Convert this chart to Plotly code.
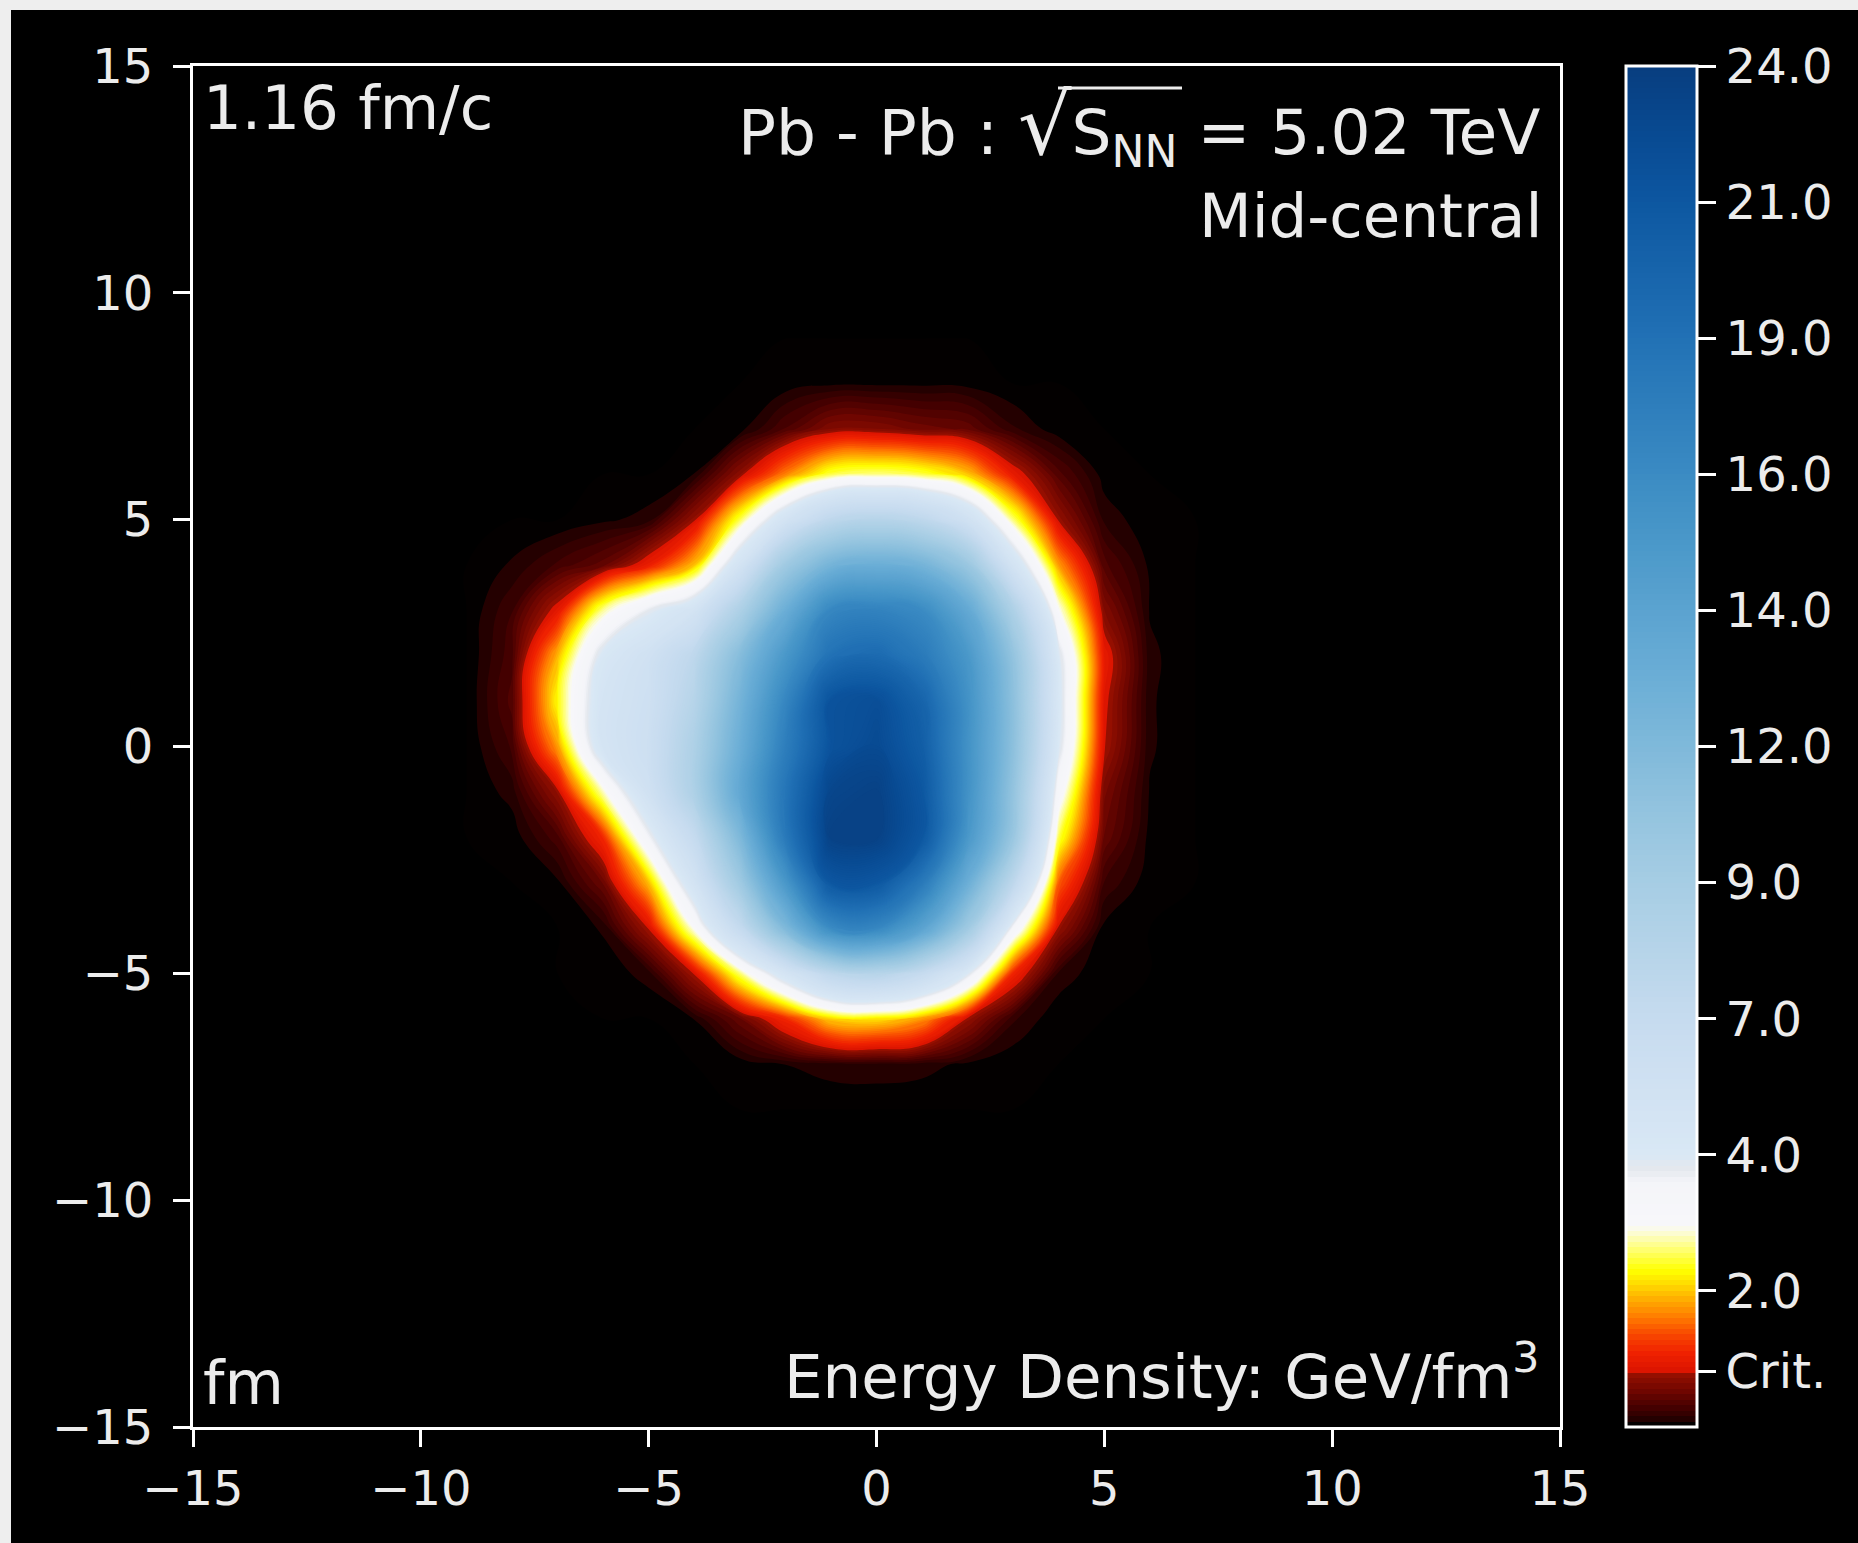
import numpy as np
import plotly.graph_objects as go

# ---------------- data ----------------
# transverse grid, fm
x_fm = [-10, -9, -8, -7, -6, -5, -4, -3, -2, -1, 0, 1, 2, 3, 4, 5, 6, 7, 8]
y_fm_top_down = [9, 8, 7, 6, 5, 4, 3, 2, 1, 0, -1, -2, -3, -4, -5, -6, -7, -8, -9]

# energy density, GeV/fm^3, one row per y value (top row first)
row_y9 = [0, 0, 0, 0, 0, 0, 0, 0, 0, 0, 0, 0, 0, 0, 0, 0, 0, 0, 0]
row_y8 = [0, 0, 0, 0, 0, 0, 0, 0, 0.02, 0.05, 0.05, 0.05, 0.04, 0.0, 0, 0, 0, 0, 0]
row_y7 = [0, 0, 0, 0, 0, 0, 0.0, 0.03, 0.28, 0.55, 0.55, 0.45, 0.39, 0.15, 0.02, 0, 0, 0, 0]
row_y6 = [0, 0, 0, 0, 0, 0.0, 0.07, 0.6, 1.6, 2.5, 2.65, 2.5, 2.0, 0.85, 0.3, 0.03, 0, 0, 0]
row_y5 = [0, 0, 0, 0, 0.05, 0.1, 0.65, 2.5, 5.0, 7.5, 8.0, 7.5, 5.5, 2.6, 0.65, 0.12, 0.01, 0, 0]
row_y4 = [0, 0, 0.08, 0.22, 0.38, 0.9, 1.95, 5.0, 9.5, 12.5, 13.0, 12.5, 10.0, 5.0, 1.75, 0.3, 0.05, 0, 0]
row_y3 = [0, 0, 0.2, 0.8, 2.7, 3.8, 5.0, 8.5, 13.0, 16.5, 17.0, 16.0, 13.5, 8.5, 3.0, 0.55, 0.06, 0, 0]
row_y2 = [0, 0, 0.25, 1.9, 4.2, 5.5, 7.5, 11.5, 15.0, 19.0, 19.5, 18.0, 15.0, 10.5, 4.0, 0.85, 0.09, 0, 0]
row_y1 = [0, 0, 0.3, 2.3, 4.8, 5.8, 8.0, 12.5, 16.5, 21.5, 22.0, 20.0, 15.5, 11.0, 4.2, 0.75, 0.08, 0, 0]
row_y0 = [0, 0, 0.22, 1.75, 4.8, 6.0, 8.5, 13.0, 17.5, 21.5, 22.5, 20.5, 15.5, 11.0, 4.0, 0.7, 0.08, 0, 0]
row_ym1 = [0, 0, 0.1, 0.63, 2.8, 5.5, 8.5, 13.5, 18.5, 23.0, 23.5, 21.0, 15.5, 10.5, 3.3, 0.5, 0.06, 0, 0]
row_ym2 = [0, 0, 0.02, 0.25, 1.05, 3.6, 7.0, 12.0, 18.0, 23.5, 23.5, 21.0, 15.0, 10.0, 2.5, 0.4, 0.04, 0, 0]
row_ym3 = [0, 0, 0, 0.05, 0.42, 1.95, 5.0, 9.5, 15.0, 21.0, 21.0, 18.0, 13.0, 7.5, 1.4, 0.2, 0.02, 0, 0]
row_ym4 = [0, 0, 0, 0.0, 0.08, 0.7, 3.0, 7.0, 12.0, 16.0, 16.5, 14.0, 9.5, 3.5, 0.65, 0.04, 0, 0, 0]
row_ym5 = [0, 0, 0, 0, 0.02, 0.1, 0.7, 2.6, 4.8, 7.5, 8.0, 7.0, 4.0, 1.0, 0.12, 0.01, 0, 0, 0]
row_ym6 = [0, 0, 0, 0, 0, 0.0, 0.07, 0.4, 1.05, 2.05, 2.15, 1.75, 0.65, 0.15, 0.01, 0, 0, 0, 0]
row_ym7 = [0, 0, 0, 0, 0, 0, 0, 0.02, 0.07, 0.11, 0.12, 0.1, 0.05, 0.01, 0, 0, 0, 0, 0]
row_ym8 = [0, 0, 0, 0, 0, 0, 0, 0, 0, 0, 0, 0, 0, 0, 0, 0, 0, 0, 0]
row_ym9 = [0, 0, 0, 0, 0, 0, 0, 0, 0, 0, 0, 0, 0, 0, 0, 0, 0, 0, 0]

energy_rows_top_down = [row_y9, row_y8, row_y7, row_y6, row_y5, row_y4, row_y3, row_y2, row_y1,
                        row_y0, row_ym1, row_ym2, row_ym3, row_ym4, row_ym5, row_ym6, row_ym7,
                        row_ym8, row_ym9]

# colour-bar levels (GeV/fm^3) and their labels
cbar_values = [0.0, 0.7, 2.0, 4.0, 7.0, 9.0, 12.0, 14.0, 16.0, 19.0, 21.0, 24.0]
cbar_labels = ["Crit.", "2.0", "4.0", "7.0", "9.0", "12.0", "14.0", "16.0", "19.0", "21.0", "24.0"]

axis_ticks = [-15, -10, -5, 0, 5, 10, 15]
axis_ticktext = ["\u221215", "\u221210", "\u22125", "0", "5", "10", "15"]

time_label = "1.16 fm/c"
system_label = ("Pb - Pb : <span style='font-size:84px'>\u221a</span>"
                "S<sub>NN</sub> = 5.02 TeV")
centrality_label = "Mid-central"
unit_label = "fm"
quantity_label = "Energy Density: GeV/fm<sup>3</sup>"

# ---------------- styling / layout constants ----------------
W, H = 1858, 1543
L, R, T, B = 193, 1560, 66, 1427          # plot-area pixel box
cbar_pos = [0.0, 0.041, 0.1, 0.2, 0.3, 0.4, 0.5, 0.6, 0.7, 0.8, 0.9, 1.0]  # equal spacing of labelled levels
FONT = "DejaVu Sans"
TXT = "#ececec"


def px_x(px):
    return (px - L) / (R - L)


def px_y(py):
    return (B - py) / (B - T)


def blues(t):
    anchors = [(0.0, (247, 251, 255)), (0.125, (222, 235, 247)), (0.25, (198, 219, 239)),
               (0.375, (158, 202, 225)), (0.5, (107, 174, 214)), (0.625, (66, 146, 198)),
               (0.75, (33, 113, 181)), (0.875, (8, 81, 156)), (1.0, (8, 48, 107))]
    ts = [a[0] for a in anchors]
    rgb = [np.interp(t, ts, [a[1][i] for a in anchors]) for i in range(3)]
    return "rgb(%d,%d,%d)" % tuple(int(round(v)) for v in rgb)


colorscale = [
    [0.0, "#000000"], [0.0017, "#000000"], [0.0047, "#1e0000"], [0.0088, "#300000"],
    [0.0146, "#460000"], [0.0264, "#700600"], [0.040, "#9a1000"], [0.042, "#dd1500"],
    [0.055, "#f02200"], [0.068, "#f84800"], [0.080, "#ff7800"], [0.093, "#ffab00"],
    [0.105, "#ffdc00"], [0.115, "#ffff00"], [0.130, "#ffff70"], [0.145, "#fbfbe8"],
    [0.150, "#f7f7fa"], [0.180, "#f4f5f9"], [0.190, "#e4e8ee"], [0.200, blues(0.15)],
]
for p in np.arange(0.25, 1.0001, 0.05):
    colorscale.append([float(round(p, 4)), blues(0.15 + (p - 0.2))])

# ---------------- build figure ----------------
E = np.array(energy_rows_top_down[::-1], dtype=float)
y_vals = y_fm_top_down[::-1]
Z = np.interp(E, cbar_values, cbar_pos)   # position on the (non-linear) colour bar

cb_left, cb_right = 1626, 1697

fig = go.Figure()
fig.add_trace(go.Contour(
    x=x_fm, y=y_vals, z=Z,
    zmin=0, zmax=1,
    colorscale=colorscale,
    contours=dict(start=0.0, end=1.0, size=0.004, coloring="fill", showlines=False),
    line=dict(width=0, smoothing=1.3),
    hoverinfo="skip",
    colorbar=dict(
        x=px_x(cb_left), xanchor="left", xpad=0,
        y=0.5, yanchor="middle", ypad=0, len=1, lenmode="fraction",
        thickness=cb_right - cb_left, thicknessmode="pixels",
        outlinecolor="white", outlinewidth=3,
        ticks="outside", ticklen=18, tickwidth=2.5, tickcolor="white",
        tickvals=cbar_pos[1:], ticktext=cbar_labels,
        tickfont=dict(family=FONT, size=48, color=TXT),
    ),
))

axis_common = dict(
    range=[-15, 15], tickvals=axis_ticks, ticktext=axis_ticktext,
    showgrid=False, zeroline=False, showline=True, mirror=True,
    linecolor="white", linewidth=3,
    ticks="outside", ticklen=17, tickwidth=2.5, tickcolor="white",
    tickfont=dict(family=FONT, size=48, color=TXT),
)

fig.update_layout(
    width=W, height=H,
    margin=dict(l=L, r=W - R, t=T, b=H - B, pad=0),
    paper_bgcolor="black", plot_bgcolor="black",
    showlegend=False,
    xaxis=dict(**axis_common, ticklabelstandoff=0),
    yaxis=dict(**axis_common, ticklabelstandoff=10),
)

ann_font = dict(family=FONT, size=61, color=TXT)
fig.add_annotation(text=time_label, xref="paper", yref="paper", x=px_x(201), y=px_y(108),
                   xanchor="left", yanchor="middle", showarrow=False, font=ann_font)
fig.add_annotation(text=system_label, xref="paper", yref="paper", x=px_x(1542), y=px_y(126),
                   xanchor="right", yanchor="middle", showarrow=False,
                   font=dict(family=FONT, size=63, color=TXT))
fig.add_annotation(text=centrality_label, xref="paper", yref="paper", x=px_x(1544), y=px_y(215),
                   xanchor="right", yanchor="middle", showarrow=False, font=ann_font)
fig.add_annotation(text=unit_label, xref="paper", yref="paper", x=px_x(201), y=px_y(1382),
                   xanchor="left", yanchor="middle", showarrow=False, font=ann_font)
fig.add_annotation(text=quantity_label, xref="paper", yref="paper", x=px_x(1542), y=px_y(1372),
                   xanchor="right", yanchor="middle", showarrow=False, font=ann_font)

# crit marker line across the colour bar
crit_p = cbar_pos[1]
fig.add_shape(type="line", xref="paper", yref="paper",
              x0=px_x(cb_left), x1=px_x(cb_right), y0=crit_p, y1=crit_p,
              line=dict(color="white", width=6), layer="above")
# overline of the square root
fig.add_shape(type="line", xref="paper", yref="paper",
              x0=px_x(1058), x1=px_x(1182), y0=px_y(88), y1=px_y(88),
              line=dict(color=TXT, width=3), layer="above")
# light frame strips on the left and top of the image
fig.add_shape(type="rect", xref="paper", yref="paper",
              x0=px_x(0), x1=px_x(11), y0=px_y(H), y1=px_y(0),
              line=dict(width=0), fillcolor="#eeeeee", layer="above")
fig.add_shape(type="rect", xref="paper", yref="paper",
              x0=px_x(0), x1=px_x(W), y0=px_y(10), y1=px_y(0),
              line=dict(width=0), fillcolor="#eeeeee", layer="above")

fig.write_html("out.html")
